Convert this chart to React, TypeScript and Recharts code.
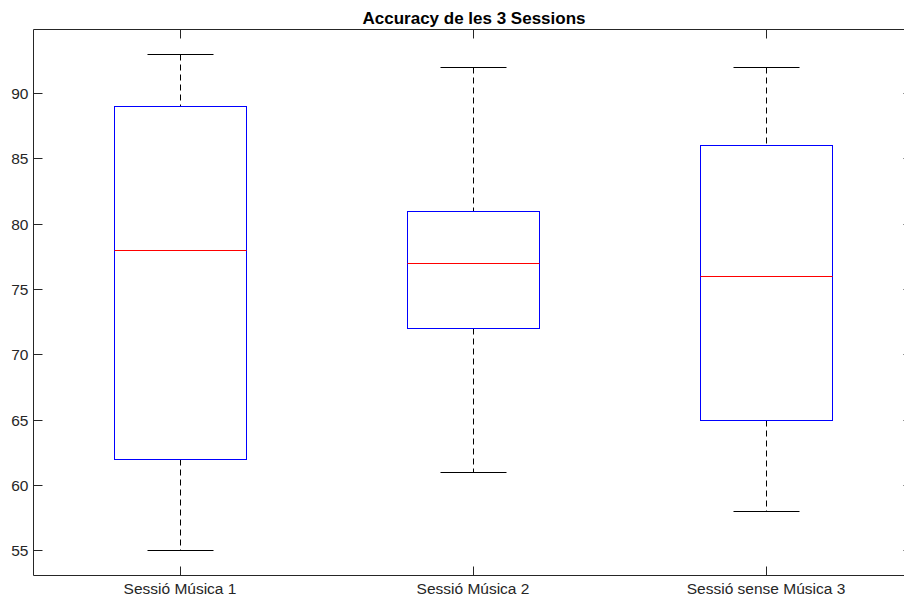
import React from 'react';
import { ComposedChart, Bar, XAxis, YAxis } from 'recharts';

// Five-number summaries of accuracy (%) for each session
const sessions = ['Sessió Música 1', 'Sessió Música 2', 'Sessió sense Música 3'];
const lowerWhisker = [55, 61, 58];
const firstQuartile = [62, 72, 65];
const medians = [78, 77, 76];
const thirdQuartile = [89, 81, 86];
const upperWhisker = [93, 92, 92];
const yTicks = [55, 60, 65, 70, 75, 80, 85, 90];
const chartTitle = 'Accuracy de les 3 Sessions';

const rows = sessions.map((name, i) => ({
  name,
  lo: lowerWhisker[i],
  q1: firstQuartile[i],
  med: medians[i],
  q3: thirdQuartile[i],
  hi: upperWhisker[i],
}));

const CHART_W = 920;
const CHART_H = 598;
const MARGIN = { top: 28.5, right: 7.5, bottom: 0, left: 0 };
const PLOT_RIGHT = CHART_W - MARGIN.right;

const AXIS = '#262626';
const BOX = '#0000ff';
const MEDIAN = '#ff0000';
const WHISKER = '#000000';
const FONT = '"Liberation Sans", Arial, Helvetica, sans-serif';
const TICK_LEN = 9;
const snap = (v: number) => Math.round(v - 0.5) + 0.5;

// Draws a full box-and-whisker glyph from the range bar spanning [lo, hi]
const BoxShape = (props: any) => {
  const { x, y, width, height } = props;
  const d = props.payload ?? props;
  const top = Math.min(y, y + height);
  const bottom = Math.max(y, y + height);
  const toPx = (v: number) => bottom - ((v - d.lo) / (d.hi - d.lo)) * (bottom - top);
  const cx = snap(x + width / 2);
  const left = snap(x);
  const right = snap(x + width);
  const capHalf = width / 4;
  const yLo = snap(toPx(d.lo));
  const yQ1 = snap(toPx(d.q1));
  const yMed = snap(toPx(d.med));
  const yQ3 = snap(toPx(d.q3));
  const yHi = snap(toPx(d.hi));
  return (
    <g>
      <line x1={cx} x2={cx} y1={yHi} y2={yQ3} stroke={WHISKER} strokeDasharray="6 4" />
      <line x1={cx} x2={cx} y1={yQ1} y2={yLo} stroke={WHISKER} strokeDasharray="6 4" />
      <line x1={snap(cx - capHalf)} x2={snap(cx + capHalf)} y1={yHi} y2={yHi} stroke={WHISKER} />
      <line x1={snap(cx - capHalf)} x2={snap(cx + capHalf)} y1={yLo} y2={yLo} stroke={WHISKER} />
      <rect x={left} y={yQ3} width={right - left} height={yQ1 - yQ3} fill="none" stroke={BOX} />
      <line x1={left} x2={right} y1={yMed} y2={yMed} stroke={MEDIAN} />
    </g>
  );
};

// Inward tick marks on both the left and right frame edges, label on the left
const LeftTick = (props: any) => {
  const { x, y, payload } = props;
  return (
    <g>
      <line x1={x} x2={x + TICK_LEN} y1={snap(y)} y2={snap(y)} stroke={AXIS} />
      <line x1={PLOT_RIGHT} x2={PLOT_RIGHT - TICK_LEN} y1={snap(y)} y2={snap(y)} stroke={AXIS} />
      <text x={x - 5} y={y} dy="0.36em" textAnchor="end" fill={AXIS} fontSize={15.5} fontFamily={FONT}>
        {payload.value}
      </text>
    </g>
  );
};

const BottomTick = (props: any) => {
  const { x, y, payload } = props;
  return (
    <g>
      <line x1={snap(x)} x2={snap(x)} y1={y} y2={y - TICK_LEN} stroke={AXIS} />
      <text x={x} y={y + 18.5} textAnchor="middle" fill={AXIS} fontSize={15.5} fontFamily={FONT}>
        {payload.value}
      </text>
    </g>
  );
};

const TopTick = (props: any) => {
  const { x, y } = props;
  return <line x1={snap(x)} x2={snap(x)} y1={y} y2={y + TICK_LEN} stroke={AXIS} />;
};

export default function App() {
  return (
    <div
      style={{
        position: 'fixed',
        left: 0,
        top: 0,
        width: 904,
        height: 598,
        overflow: 'hidden',
        background: '#fff',
      }}
    >
      <svg width={904} height={40} style={{ position: 'absolute', left: 0, top: 0 }}>
        <text x={474} y={24} textAnchor="middle" fontWeight="bold" fontSize={17} fontFamily={FONT} fill="#000">
          {chartTitle}
        </text>
      </svg>
      <div style={{ position: 'absolute', left: 0, top: 0, pointerEvents: 'none' }}>
        <ComposedChart width={CHART_W} height={CHART_H} data={rows} margin={MARGIN}>
          <XAxis
            dataKey="name"
            type="category"
            height={22.5}
            tickSize={0}
            tickMargin={0}
            tickLine={false}
            axisLine={{ stroke: AXIS }}
            tick={<BottomTick />}
            interval={0}
          />
          <XAxis
            xAxisId="top"
            dataKey="name"
            type="category"
            orientation="top"
            height={1}
            tickSize={0}
            tickMargin={0}
            tickLine={false}
            axisLine={{ stroke: AXIS }}
            tick={<TopTick />}
            interval={0}
          />
          <YAxis
            type="number"
            domain={[53.1, 94.9]}
            ticks={yTicks}
            width={33.5}
            tickSize={0}
            tickMargin={0}
            tickLine={false}
            axisLine={{ stroke: AXIS }}
            tick={<LeftTick />}
            interval={0}
            allowDataOverflow
          />
          <Bar
            dataKey={(d: any) => [d.lo, d.hi]}
            barSize={132}
            shape={<BoxShape />}
            activeBar={false}
            isAnimationActive={false}
          />
        </ComposedChart>
      </div>
    </div>
  );
}
